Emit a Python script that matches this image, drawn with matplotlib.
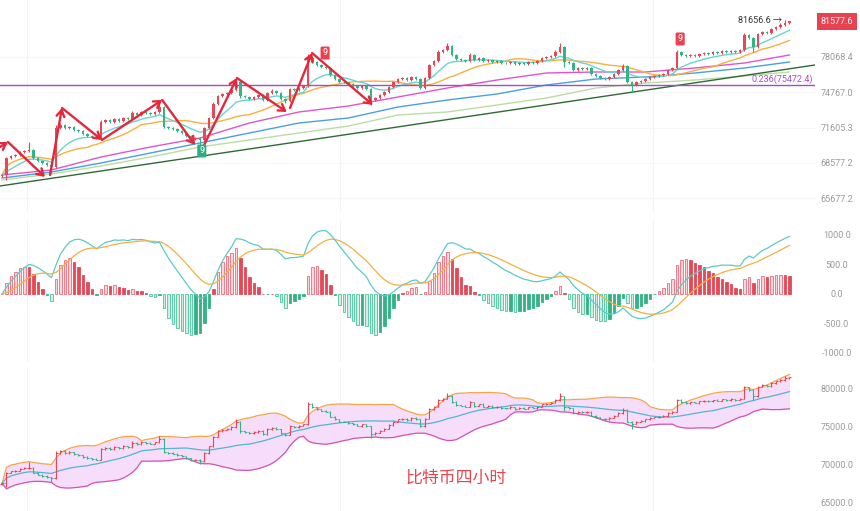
import numpy as np
import pandas as pd
import matplotlib
matplotlib.use("Agg")
import matplotlib.pyplot as plt
from matplotlib.ticker import NullLocator, FixedLocator
import matplotlib.transforms as mtransforms

plt.rcParams['font.family'] = ['Roboto', 'Noto Sans CJK SC', 'DejaVu Sans']

# ---------------- data (4h BTC candles) ----------------
first_open = 67480
closes = [
    67569, 68990, 69159, 69244, 69499, 69584, 69669, 68990, 68737, 68569,
    68401, 68234, 71571, 71834, 71571, 71658, 71395, 71308, 71047, 70873,
    70787, 70700, 72099, 72275, 72099, 72364, 72187, 72452, 72364, 72897,
    72718, 72987, 72897, 72808, 72987, 73434, 71658, 71571, 71483, 71308,
    71134, 70873, 70614, 70700, 70527, 71571, 72452, 73704, 74429, 74612,
    74703, 74978, 75715, 74429, 74339, 74157, 74339, 74520, 74066, 74703,
    74886, 74703, 74157, 73976, 75070, 74978, 75162, 75346, 77973, 77592,
    77308, 77119, 77025, 76367, 75994, 75715, 75680, 75529, 75346, 75162,
    75346, 75070, 74066, 74247, 74520, 74795, 75254, 75715, 75994, 76087,
    75901, 76181, 75994, 75162, 76087, 77308, 77687, 78548, 78740, 79127,
    78260, 77878, 77782, 77687, 78260, 77782, 77973, 77687, 77782, 77592,
    77687, 77497, 77470, 77592, 77403, 77497, 77403, 77592, 77497, 77687,
    77973, 78068, 78164, 78548, 79030, 77592, 77497, 76836, 77025, 76930,
    77025, 76461, 76274, 76087, 75994, 76181, 76461, 76836, 77214, 75715,
    75438, 75715, 75808, 75994, 76181, 76274, 76367, 76461, 76836, 77025,
    78548, 78260, 78164, 78260, 78164, 78356, 78452, 78356, 78548, 78452,
    78644, 78548, 78644, 78548, 78740, 80199, 79906, 79030, 80297, 80493,
    80395, 80790, 80988, 81187, 81387, 81577.6,
]
up_wick = [
    80, 120, 60, 90, 70, 100, 690, 60, 80, 50,
    70, 60, 260, 150, 90, 120, 60, 110, 70, 80,
    60, 90, 150, 110, 70, 90, 60, 130, 80, 200,
    90, 110, 60, 80, 70, 360, 80, 60, 90, 50,
    70, 60, 80, 90, 60, 120, 100, 150, 120, 90,
    100, 130, 370, 110, 80, 60, 90, 120, 70, 100,
    140, 80, 60, 90, 130, 80, 90, 70, 380, 150,
    90, 120, 80, 100, 70, 60, 90, 80, 60, 110,
    70, 90, 80, 100, 60, 90, 110, 80, 120, 70,
    90, 80, 100, 60, 110, 140, 90, 180, 110, 290,
    80, 100, 70, 120, 160, 60, 90, 120, 80, 100,
    70, 90, 60, 110, 80, 70, 100, 60, 90, 80,
    110, 90, 130, 160, 390, 80, 100, 60, 90, 70,
    120, 80, 60, 90, 70, 100, 80, 120, 220, 90,
    80, 60, 100, 90, 70, 80, 60, 90, 120, 100,
    190, 80, 100, 60, 90, 70, 120, 80, 60, 100,
    90, 70, 110, 80, 60, 150, 120, 90, 100, 130,
    90, 110, 100, 150, 270, 40,
]
dn_wick = [
    90, 410, 70, 100, 60, 80, 90, 110, 70, 90,
    120, 480, 90, 60, 100, 70, 90, 60, 80, 110,
    70, 90, 60, 100, 80, 70, 120, 60, 90, 80,
    100, 70, 90, 60, 110, 80, 120, 90, 70, 100,
    80, 110, 90, 70, 430, 90, 60, 110, 80, 120,
    70, 90, 100, 160, 80, 110, 70, 90, 130, 80,
    70, 100, 90, 150, 80, 100, 70, 90, 60, 110,
    90, 70, 100, 80, 120, 90, 70, 100, 80, 90,
    110, 80, 450, 100, 70, 90, 60, 80, 100, 70,
    90, 110, 80, 130, 100, 70, 90, 60, 80, 100,
    120, 90, 70, 100, 80, 110, 60, 90, 70, 80,
    100, 70, 90, 60, 110, 80, 70, 90, 60, 100,
    80, 70, 90, 60, 100, 470, 80, 110, 90, 70,
    100, 80, 120, 90, 70, 100, 60, 80, 90, 120,
    640, 90, 70, 100, 80, 60, 90, 70, 100, 80,
    90, 70, 100, 80, 60, 90, 70, 100, 80, 60,
    90, 70, 80, 100, 60, 90, 110, 480, 70, 90,
    100, 80, 90, 70, 110, 80,
]

# long moving averages read at sampled candles
ma_idx = [0, 11, 22, 33, 44, 55, 66, 77, 88, 99, 110, 121, 132, 143, 154, 165, 175]
ma_magenta = [67569, 67984, 69075, 69926, 70700, 72010, 72987, 73524, 74339, 75162,
              75901, 76555, 76648, 76648, 77025, 77497, 78260]
ma_blue = [67322, 67818, 68569, 69414, 70269, 71134, 72010, 72452, 73434, 74066,
           74612, 75438, 75994, 76181, 76555, 77025, 77592]
ma_green = [67157, 67652, 68318, 69075, 69926, 70527, 71134, 71746, 72718, 72987,
            73614, 74247, 75162, 75622, 75901, 76274, 76648]

fib_level = 75472.4
last_price = 81577.6
high_price = 81656.6
main_ticks = [78068.4, 74767.0, 71605.3, 68577.2, 65677.2]
macd_ticks = [1000, 500, 0, -500, -1000]
bb_ticks = [80000, 75000, 70000, 65000]

# hand-drawn zigzag arrows (candle index, price)
zigzag = [
    ((-0.44, 69926), (1.33, 70355)),
    ((1.33, 70355), (9.56, 67404)),
    ((10.67, 67569), (13.33, 73344)),
    ((13.33, 73344), (22.2, 70527)),
    ((22.2, 70527), (35.6, 74066)),
    ((35.6, 74066), (42.9, 70097)),
    ((44.7, 69926), (52.2, 76087)),
    ((52.2, 76087), (63.3, 72987)),
    ((64.0, 73344), (68.9, 78452)),
    ((68.9, 78452), (82.4, 73614)),
]
td_red = [(71.8, 78452), (150.7, 79808)]
td_green = [(44.4, 69584)]
trend_pts = [(0, 66690), (175, 76950)]

# ---------------- derived ----------------
n = len(closes)
assert len(up_wick) == n and len(dn_wick) == n
idx = np.arange(n)
opens = [first_open] + closes[:-1]
highs = [max(o, c) + w for o, c, w in zip(opens, closes, up_wick)]
lows = [min(o, c) - w for o, c, w in zip(opens, closes, dn_wick)]

cs = pd.Series(closes, dtype=float)
ema10 = cs.ewm(span=10, adjust=False).mean()
sma20 = cs.rolling(20, min_periods=1).mean()
std20 = cs.rolling(20, min_periods=1).std(ddof=0).fillna(0)
bb_up = sma20 + 2 * std20
bb_lo = sma20 - 2 * std20
dif = cs.ewm(span=12, adjust=False).mean() - cs.ewm(span=26, adjust=False).mean()
dea = dif.ewm(span=9, adjust=False).mean()
hist = 2 * (dif - dea)

RED = '#e84856'
GREEN = '#33b487'
GRAY = '#9a9a9a'

fig = plt.figure(figsize=(8.6, 5.11), dpi=100)
W, H = 860, 511
def rect(x0, y0, x1, y1):
    return [x0 / W, 1 - y1 / H, (x1 - x0) / W, (y1 - y0) / H]

ax1 = fig.add_axes(rect(0, 0, 815, 212))
ax2 = fig.add_axes(rect(0, 220, 815, 362))
ax3 = fig.add_axes(rect(0, 368, 815, 511))
xlim = (-0.444, 180.67)

for ax in (ax1, ax2, ax3):
    ax.set_xlim(*xlim)
    for s in ax.spines.values():
        s.set_visible(False)
    ax.set_xticks([])
    ax.yaxis.tick_right()
    ax.tick_params(axis='y', length=0, pad=15.8, labelsize=6.5, labelcolor=GRAY)
    for gx in (27, 340, 653):
        ax.axvline((gx - 2) / 4.5, color='#f3f3f3', lw=0.8, zorder=0)

# ---------------- main candle panel ----------------
ax1.set_yscale('log')
ax1.set_ylim(64576, 83710)
ax1.yaxis.set_major_locator(FixedLocator(main_ticks))
ax1.yaxis.set_minor_locator(NullLocator())
ax1.set_yticklabels([f"{t:.1f}" for t in main_ticks], ha='center')
for t in main_ticks:
    ax1.axhline(t, color='#f6f6f6', lw=0.6, zorder=0)

ax1.plot(ma_idx, ma_green, color='#bcdca4', lw=1.0, zorder=2)
ax1.plot(ma_idx, ma_blue, color='#4aa0e0', lw=1.0, zorder=2)
ax1.plot(ma_idx, ma_magenta, color='#e056c8', lw=1.0, zorder=2)
ax1.plot(idx, sma20, color='#f6b040', lw=1.0, zorder=2)
ax1.plot(idx, ema10, color='#6cd3cf', lw=1.0, zorder=2)
ax1.axline(trend_pts[0], trend_pts[1], color='#2c6a36', lw=1.0, zorder=2)
ax1.axhline(fib_level, color='#a64ccb', lw=1.0, zorder=2)
ax1.text(180.2, fib_level * 1.0012, f"0.236({fib_level})", color='#a64ccb',
         fontsize=6.5, ha='right', va='bottom', zorder=5)

for i in idx:
    o, c = opens[i], closes[i]
    col = RED if c >= o else GREEN
    ax1.vlines(i, lows[i], highs[i], color=col, lw=0.8, zorder=3)
    hgt = max(abs(c - o), 18)
    ax1.bar(i, hgt, bottom=min(o, c), width=0.66, color=col, lw=0, zorder=3)

for (p0, p1) in zigzag:
    ax1.annotate('', xy=p1, xytext=p0,
                 arrowprops=dict(arrowstyle='->,head_length=0.45,head_width=0.28',
                                 color='#e3283c', lw=1.7, shrinkA=0, shrinkB=0),
                 zorder=6)
for (x, y) in td_red:
    ax1.text(x, y, '9', color='white', fontsize=6.5, ha='center', va='center', zorder=7,
             bbox=dict(boxstyle='round,pad=0.22,rounding_size=0.15', fc='#e8424f', ec='none'))
for (x, y) in td_green:
    ax1.text(x, y, '9', color='white', fontsize=6.5, ha='center', va='center', zorder=7,
             bbox=dict(boxstyle='round,pad=0.22,rounding_size=0.15', fc='#2fae84', ec='none'))

ax1.text(173.4, high_price * 1.0003, f"{high_price} \u2192", color='#333333', fontsize=6.5,
         ha='right', va='center', zorder=7)
trans = mtransforms.blended_transform_factory(ax1.transAxes, ax1.transData)
ax1.text(1.0 + 22 / 815, last_price, f"{last_price}", transform=trans, color='white',
         fontsize=6.5, ha='center', va='center', zorder=8, clip_on=False,
         bbox=dict(boxstyle='square,pad=0.45', fc='#e8414f', ec='none'))

# ---------------- MACD panel ----------------
ax2.set_ylim(-1153, 1254)
ax2.yaxis.set_major_locator(FixedLocator(macd_ticks))
ax2.set_yticklabels([f"{t:.1f}" for t in macd_ticks], ha='center')
prev = 0.0
for i in idx:
    h = hist.iloc[i]
    growing = abs(h) > abs(prev)
    if h >= 0:
        fc, ec = ('#fcd6da', '#ee6b79') if growing else ('#e64856', '#e64856')
    else:
        fc, ec = ('#cdf0e3', '#4cc49c') if growing else ('#33b385', '#33b385')
    ax2.bar(i, h, width=0.66, color=fc, edgecolor=ec, lw=0.6, zorder=2)
    prev = h
ax2.plot(idx, dif, color='#5ccbc8', lw=0.9, zorder=3)
ax2.plot(idx, dea, color='#f4b041', lw=0.9, zorder=3)

# ---------------- Bollinger panel ----------------
ax3.set_ylim(63945, 82763)
ax3.yaxis.set_major_locator(FixedLocator(bb_ticks))
ax3.set_yticklabels([f"{t:.1f}" for t in bb_ticks], ha='center')
ax3.fill_between(idx, bb_lo, bb_up, color='#f6defb', lw=0, zorder=1)
ax3.plot(idx, bb_up, color='#f4a548', lw=0.9, zorder=2)
ax3.plot(idx, bb_lo, color='#d452b6', lw=0.9, zorder=2)
ax3.plot(idx, sma20, color='#52b4d2', lw=0.9, zorder=2)
for i in idx:
    o, c = opens[i], closes[i]
    col = RED if c >= o else GREEN
    ax3.vlines(i, lows[i], highs[i], color=col, lw=0.8, zorder=3)
    ax3.hlines(o, i - 0.35, i, color=col, lw=0.8, zorder=3)
    ax3.hlines(c, i, i + 0.35, color=col, lw=0.8, zorder=3)

fig.text(456 / W, 1 - 478 / H, "比特币四小时", color='#e8464f', fontsize=12.2,
         ha='center', va='center', family=['Noto Sans CJK SC', 'DejaVu Sans'])

fig.savefig("out.png", dpi=100)
